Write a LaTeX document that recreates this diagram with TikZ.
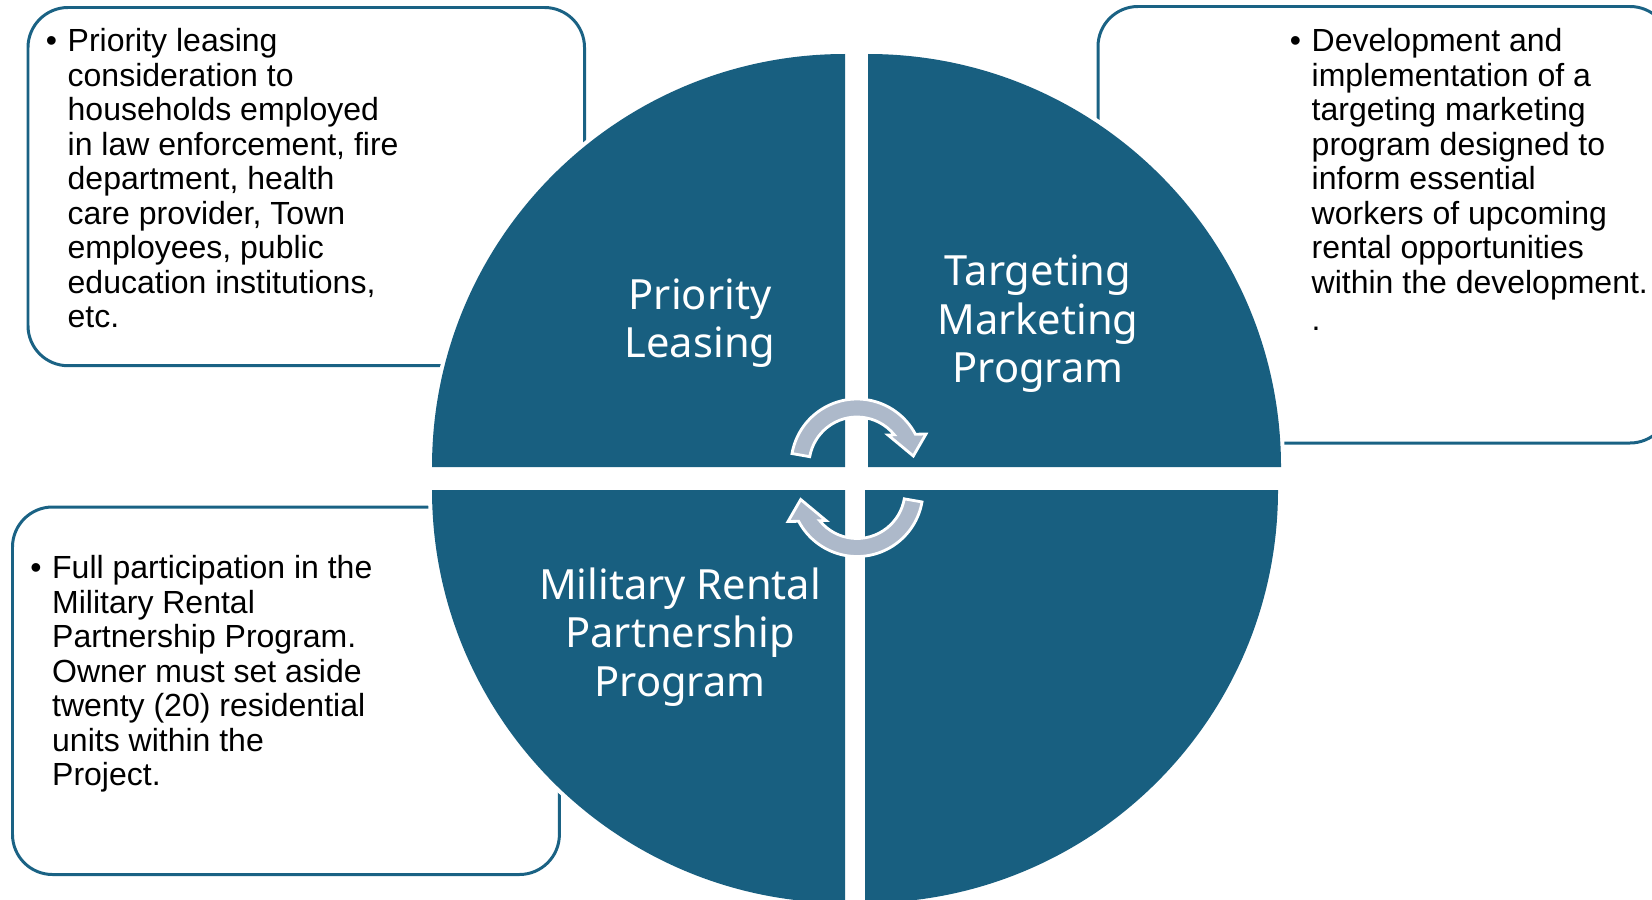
\documentclass[tikz,border=0pt]{standalone}
\usepackage{fontspec}
\setmainfont{Liberation Sans}
\newfontfamily\labelfont{Noto Sans}
\definecolor{quad}{RGB}{24,95,128}
\definecolor{boxline}{RGB}{26,98,132}
\definecolor{arrowfill}{RGB}{173,185,202}
\begin{document}
\begin{tikzpicture}[x=0.01cm,y=0.01cm,
  infobox/.style={draw=boxline, line width=0.85pt, rounded corners=0.4cm},
  halo/.style={fill=white, draw=white, line width=2.3pt, line join=round},
  quadrant/.style={fill=quad},
  cyclearrow/.style={fill=arrowfill, draw=white, line width=0.8pt, line join=miter},
  boxtext/.style={anchor=base west, inner sep=0pt, font=\fontsize{9.1pt}{9.82pt}\selectfont},
  quadlabel/.style={text=white, align=center, inner sep=0pt, font=\labelfont\fontsize{11.84pt}{13.8pt}\selectfont}
]
\useasboundingbox (0,0) rectangle (1652,899);
\clip (0,0) rectangle (1652,899);

% information boxes
\draw[infobox] (28,533.3) rectangle (584.5,891.5);
\draw[infobox] (1098,456) rectangle (1670,892.5);
\draw[infobox] (12.5,24.5) rectangle (559.4,392);

% white halos round the quadrants
\path[halo] (845,432) -- ++(-413,0) arc[start angle=180,end angle=90,radius=413] -- cycle;
\path[halo] (868,432) -- ++(0,413) arc[start angle=90,end angle=0,radius=413] -- cycle;
\path[halo] (845,409) -- ++(0,-413) arc[start angle=270,end angle=180,radius=413] -- cycle;
\path[halo] (865,409) -- ++(413,0) arc[start angle=0,end angle=-90,radius=413] -- cycle;

% quadrants
\path[quadrant] (845,432) -- ++(-413,0) arc[start angle=180,end angle=90,radius=413] -- cycle;
\path[quadrant] (868,432) -- ++(0,413) arc[start angle=90,end angle=0,radius=413] -- cycle;
\path[quadrant] (845,409) -- ++(0,-413) arc[start angle=270,end angle=180,radius=413] -- cycle;
\path[quadrant] (865,409) -- ++(413,0) arc[start angle=0,end angle=-90,radius=413] -- cycle;

% circular arrows
\begin{scope}[shift={(857,434)}]
\path[cyclearrow] (170:66) arc[start angle=170,end angle=27.8,radius=66] -- (69,31) -- (56.3,9) -- (31,30) -- (37.3,30.2) arc[start angle=39,end angle=170,radius=48] -- cycle;
\end{scope}
\begin{scope}[shift={(857,408.5)}, rotate=180]
\path[cyclearrow] (170:66) arc[start angle=170,end angle=27.8,radius=66] -- (69,31) -- (56.3,9) -- (31,30) -- (37.3,30.2) arc[start angle=39,end angle=170,radius=48] -- cycle;
\end{scope}

% quadrant labels
\node[quadlabel] (pl) at (700,575.8) {Priority\\Leasing};
\node[quadlabel] (tm) at (1038,575) {Targeting\\Marketing\\Program};
\node[quadlabel] (mr) at (680,262) {Military Rental\\Partnership\\Program};

% box texts
\node[boxtext] (t1) at (67,847.3) {\parbox[t]{4.2cm}{\raggedright\leavevmode\llap{•\hspace{3pt}}Priority leasing\\consideration to\\households employed\\in law enforcement, fire\\department, health\\care provider, Town\\employees, public\\education institutions,\\etc.}};
\node[boxtext] (t2) at (1311,847.3) {\parbox[t]{4.2cm}{\raggedright\leavevmode\llap{•\hspace{3pt}}Development and\\implementation of a\\targeting marketing\\program designed to\\inform essential\\workers of upcoming\\rental opportunities\\within the development.\\[0.7pt].}};
\node[boxtext] (t3) at (51.5,320.5) {\parbox[t]{4.2cm}{\raggedright\leavevmode\llap{•\hspace{3pt}}Full participation in the\\Military Rental\\Partnership Program.\\Owner must set aside\\twenty (20) residential\\units within the\\Project.}};
\end{tikzpicture}
\end{document}
